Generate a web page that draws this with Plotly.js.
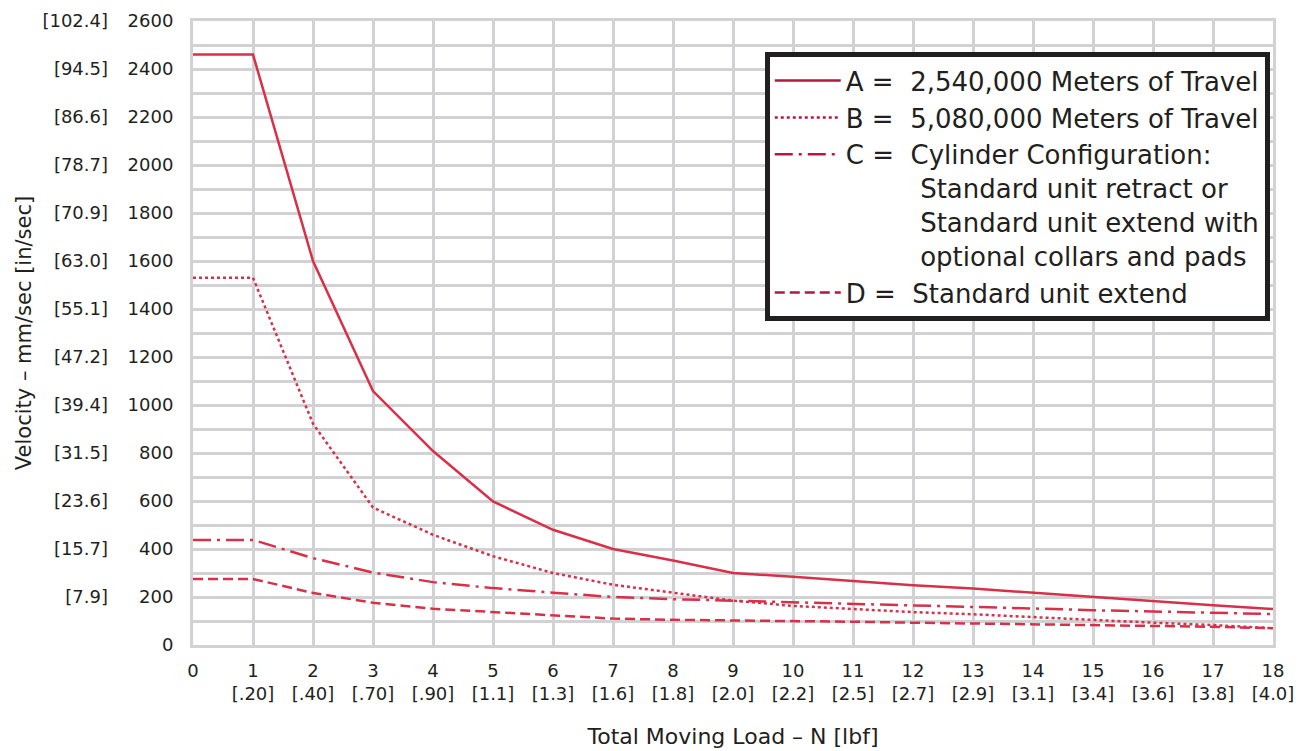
<!DOCTYPE html>
<html>
<head>
<meta charset="utf-8">
<script src="https://cdn.plot.ly/plotly-3.0.1.min.js"></script>
<style>html,body{margin:0;padding:0;background:#fff;}#chart{width:1299px;height:751px;}</style>
</head>
<body>
<div id="chart"></div>
<script>
// Total moving load (N)
const loadN = [0,1,2,3,4,5,6,7,8,9,10,11,12,13,14,15,16,17,18];
const loadLbfLabels = ["", "[.20]","[.40]","[.70]","[.90]","[1.1]","[1.3]","[1.6]","[1.8]","[2.0]","[2.2]","[2.5]","[2.7]","[2.9]","[3.1]","[3.4]","[3.6]","[3.8]","[4.0]"];

// Velocity (mm/sec) per curve
const seriesA = [2460,2460,1600,1058,808,598,480,400,352,300,284,266,249,235,217,200,184,166,150];
const seriesB = [1530,1530,922,573,459,370,300,251,218,185,163,150,137,128,116,103,93,83,70];
const seriesC = [438,438,362,302,262,237,218,200,191,185,177,172,165,160,152,145,140,135,129];
const seriesD = [275,275,217,176,151,138,125,110,105,103,99,97,93,90,86,82,79,76,70];

// Y tick labels
const velTicks = [0,200,400,600,800,1000,1200,1400,1600,1800,2000,2200,2400,2600];
const inSecTicks = [200,400,600,800,1000,1200,1400,1600,1800,2000,2200,2400,2600];
const inSecLabels = ["[7.9]","[15.7]","[23.6]","[31.5]","[39.4]","[47.2]","[55.1]","[63.0]","[70.9]","[78.7]","[86.6]","[94.5]","[102.4]"];

const nb = "\u00a0";
const ind = nb.repeat(9);
const names = [
  "A =" + nb + nb + "2,540,000 Meters of Travel",
  "B =" + nb + nb + "5,080,000 Meters of Travel",
  "C =" + nb + nb + "Cylinder Configuration:<br>" + ind + "Standard unit retract or<br>" + ind + "Standard unit extend with<br>" + ind + "optional collars and pads",
  "D =" + nb + nb + "Standard unit extend"
];

const red = "#d9304a";
const legendRed = "#b01a40";
const FONT = "DejaVu Sans";
const ink = "#231f20";
const grid = "#d2d2d4";

const xTickText = loadN.map((v, i) => i === 0 ? String(v) : v + "<br>" + loadLbfLabels[i]);

const traces = [
  {x: loadN, y: seriesA, name: names[0], mode: "lines", line: {color: red, width: 2.5}},
  {x: loadN, y: seriesB, name: names[1], mode: "lines", line: {color: red, width: 2.5, dash: "dot"}},
  {x: loadN, y: seriesC, name: names[2], mode: "lines", line: {color: red, width: 2.5, dash: "18px,6px,3px,6px"}},
  {x: loadN, y: seriesD, name: names[3], mode: "lines", line: {color: red, width: 2.5, dash: "10px,5px"}},
  // carrier for the in/sec axis (same data, invisible)
  {x: loadN, y: seriesA, yaxis: "y2", mode: "lines", line: {width: 0, color: "rgba(0,0,0,0)"}, opacity: 0, showlegend: false, hoverinfo: "skip"}
];

const layout = {
  width: 1299, height: 751,
  margin: {l: 193, r: 26, t: 21, b: 106},
  paper_bgcolor: "#fff", plot_bgcolor: "#fff",
  font: {family: FONT, color: ink, size: 18},
  showlegend: true,
  legend: {
    x: 0.997, xanchor: "right", y: 0.95, yanchor: "top",
    bgcolor: "#fff", bordercolor: ink, borderwidth: 5,
    font: {family: FONT, size: 26, color: ink},
    valign: "top", tracegroupgap: 0, itemwidth: 66
  },
  xaxis: {
    range: [0, 18], tickvals: loadN, ticktext: xTickText,
    showgrid: true, gridcolor: grid, gridwidth: 3,
    zeroline: false, showline: true, linecolor: grid, linewidth: 3, mirror: true,
    ticks: "", ticklabelstandoff: 7,
    tickfont: {family: FONT, size: 18, color: ink},
    title: {text: nb.repeat(5) + "Total Moving Load – N [lbf]", font: {family: FONT, size: 22, color: ink}, standoff: 26}
  },
  yaxis: {
    range: [0, 2600], tickvals: velTicks,
    showgrid: true, gridcolor: grid, gridwidth: 3,
    minor: {dtick: 100, showgrid: true, gridcolor: grid, gridwidth: 3},
    zeroline: false, showline: true, linecolor: grid, linewidth: 3, mirror: true,
    ticks: "", ticklabelstandoff: 13,
    tickfont: {family: FONT, size: 18, color: ink}
  },
  yaxis2: {
    overlaying: "y", anchor: "free", position: 0, side: "left",
    range: [0, 2600], tickvals: inSecTicks, ticktext: inSecLabels,
    showgrid: false, zeroline: false, showline: false, ticks: "",
    ticklabelstandoff: 85,
    tickfont: {family: FONT, size: 18, color: ink},
    title: {text: nb.repeat(5) + "Velocity – mm/sec [in/sec]", font: {family: FONT, size: 21, color: ink}, standoff: 4}
  }
};

Plotly.newPlot("chart", traces, layout, {displayModeBar: false, staticPlot: true}).then(function (gd) {
  // lengthen the legend line samples to fill the wider item slot
  gd.querySelectorAll(".legend path.js-line").forEach(function (p) {
    p.setAttribute("d", "M5,0h66");
    p.style.stroke = legendRed;
  });
});
</script>
</body>
</html>
